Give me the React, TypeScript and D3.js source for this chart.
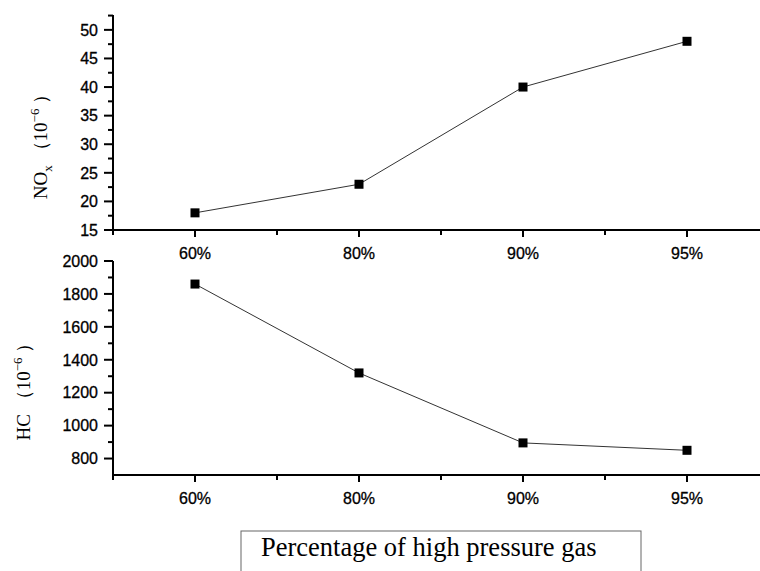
import { useRef, useEffect } from 'react';
import * as d3 from 'd3';

const categories = ['60%', '80%', '90%', '95%'];
const noxValues = [18, 23, 40, 48];
const hcValues = [1860, 1320, 895, 850];
const noxTicks = [15, 20, 25, 30, 35, 40, 45, 50];
const hcTicks = [800, 1000, 1200, 1400, 1600, 1800, 2000];

const W = 760;
const H = 571;

export default function App() {
  const svgRef = useRef<SVGSVGElement>(null);

  function renderChart() {
    const svg = d3.select(svgRef.current);
    svg.selectAll('*').remove();
    svg.attr('viewBox', `0 0 ${W} ${H}`);

    const x = d3.scaleLinear().domain([-0.5, 3.5]).range([113, 769]);
    const line = d3.line<[number, number]>().x((d) => d[0]).y((d) => d[1]);
    const sans = 'Liberation Sans, Arial, sans-serif';
    const serif = 'Liberation Serif, Times New Roman, serif';

    function panel(
      values: number[],
      ticks: number[],
      y: d3.ScaleLinear<number, number>,
      minorStep: number
    ) {
      const g = svg.append('g');
      const [y0, y1] = y.range();
      const step = ticks[1] - ticks[0];

      // y axis
      g.append('line')
        .attr('x1', 113).attr('x2', 113)
        .attr('y1', y0).attr('y2', y1)
        .attr('stroke', '#000').attr('stroke-width', 2);
      ticks.forEach((t) => {
        g.append('line')
          .attr('x1', 104).attr('x2', 113)
          .attr('y1', y(t)).attr('y2', y(t))
          .attr('stroke', '#000').attr('stroke-width', 2);
        g.append('text')
          .attr('x', 98).attr('y', y(t))
          .attr('dy', '0.36em')
          .attr('text-anchor', 'end')
          .attr('font-family', sans)
          .attr('font-size', 16)
          .attr('stroke', '#000')
          .attr('stroke-width', 0.3)
          .text(t);
      });
      const [d0, d1] = y.domain();
      for (let m = ticks[0] + minorStep; m <= d1; m += step) {
        if (m < d0) continue;
        g.append('line')
          .attr('x1', 108).attr('x2', 113)
          .attr('y1', y(m)).attr('y2', y(m))
          .attr('stroke', '#000').attr('stroke-width', 2);
      }

      // x axis
      g.append('line')
        .attr('x1', 112).attr('x2', W)
        .attr('y1', y0).attr('y2', y0)
        .attr('stroke', '#000').attr('stroke-width', 2);
      categories.forEach((c, i) => {
        g.append('line')
          .attr('x1', x(i)).attr('x2', x(i))
          .attr('y1', y0).attr('y2', y0 + 7)
          .attr('stroke', '#000').attr('stroke-width', 2);
        g.append('text')
          .attr('x', x(i)).attr('y', y0 + 28.5)
          .attr('text-anchor', 'middle')
          .attr('font-family', sans)
          .attr('font-size', 16)
          .attr('stroke', '#000')
          .attr('stroke-width', 0.3)
          .text(c);
      });
      [-0.5, 0.5, 1.5, 2.5, 3.5].forEach((m) => {
        g.append('line')
          .attr('x1', x(m)).attr('x2', x(m))
          .attr('y1', y0).attr('y2', y0 + 5)
          .attr('stroke', '#000').attr('stroke-width', 2);
      });

      // data
      const pts = values.map((v, i) => [x(i), y(v)] as [number, number]);
      g.append('path')
        .attr('d', line(pts))
        .attr('fill', 'none')
        .attr('stroke', '#333')
        .attr('stroke-width', 1);
      g.selectAll('rect.pt')
        .data(pts)
        .join('rect')
        .attr('class', 'pt')
        .attr('x', (d) => d[0] - 4.5)
        .attr('y', (d) => d[1] - 4.5)
        .attr('width', 9)
        .attr('height', 9)
        .attr('fill', '#000');
    }

    const yTop = d3.scaleLinear().domain([15, 52.6]).range([230, 15]);
    const yBot = d3.scaleLinear().domain([700, 2000]).range([475, 261]);

    panel(noxValues, noxTicks, yTop, 2.5);
    panel(hcValues, hcTicks, yBot, 100);

    // y titles
    const t1 = svg.append('text')
      .attr('transform', 'translate(47,142) rotate(-90)')
      .attr('text-anchor', 'middle')
      .attr('font-family', serif)
      .attr('font-size', 19);
    t1.append('tspan').text('NO');
    t1.append('tspan').attr('font-size', 13).attr('dy', 5).text('x');
    t1.append('tspan').attr('dy', -5).text(' （10');
    t1.append('tspan').attr('font-size', 13).attr('dy', -8).text('−6');
    t1.append('tspan').attr('dy', 8).text('  ）');

    const t2 = svg.append('text')
      .attr('transform', 'translate(30,387) rotate(-90)')
      .attr('text-anchor', 'middle')
      .attr('font-family', serif)
      .attr('font-size', 19);
    t2.append('tspan').text('HC   （10');
    t2.append('tspan').attr('font-size', 13).attr('dy', -8).text('−6');
    t2.append('tspan').attr('dy', 8).text(' ）');

    // x title box
    svg.append('rect')
      .attr('x', 241).attr('y', 531)
      .attr('width', 400).attr('height', 60)
      .attr('fill', 'none')
      .attr('stroke', '#666')
      .attr('stroke-width', 1);
    svg.append('text')
      .attr('x', 261).attr('y', 556)
      .attr('font-family', serif)
      .attr('font-size', 26.5)
      .text('Percentage of high pressure gas');
  }

  useEffect(() => {
    renderChart();
  }, []);

  return (
    <div style={{ position: 'absolute', left: 0, top: 0 }}>
      <svg ref={svgRef} width={W} height={H} style={{ display: 'block', background: '#fff' }} />
    </div>
  );
}
